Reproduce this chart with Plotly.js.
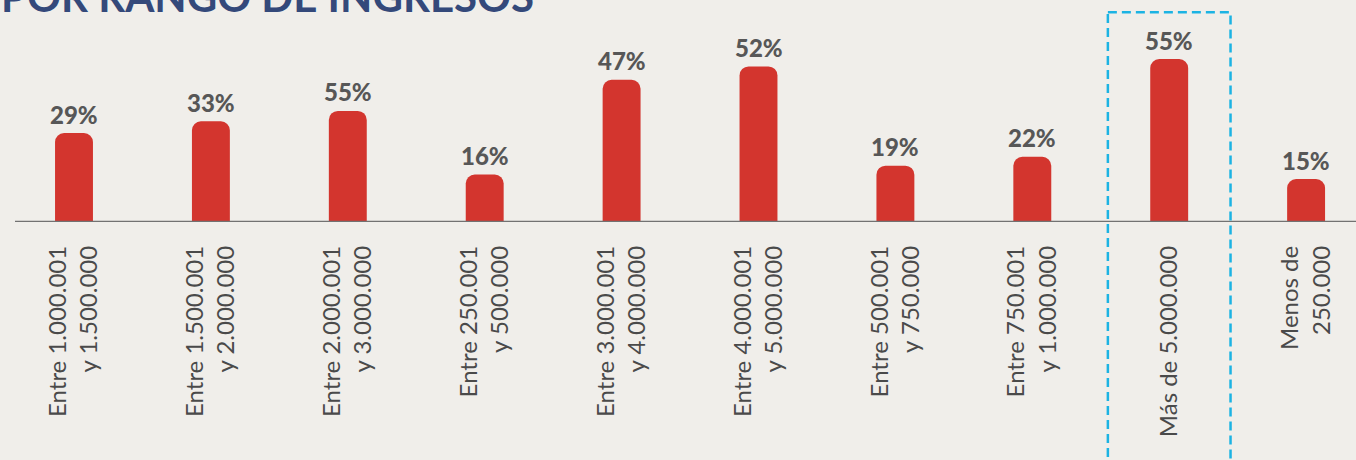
<!DOCTYPE html>
<html>
<head>
<meta charset="utf-8">
<script src="https://cdn.plot.ly/plotly-3.0.1.min.js"></script>
<style>
html,body{margin:0;padding:0;background:#f0eeea;}
#chart{width:1356px;height:460px;}
</style>
</head>
<body>
<div id="chart"></div>
<script>
// Data
const categories = [
  "Entre 1.000.001<br>y 1.500.000",
  "Entre 1.500.001<br>y 2.000.000",
  "Entre 2.000.001<br>y 3.000.000",
  "Entre 250.001<br>y 500.000",
  "Entre 3.000.001<br>y 4.000.000",
  "Entre 4.000.001<br>y 5.000.000",
  "Entre 500.001<br>y 750.000",
  "Entre 750.001<br>y 1.000.000",
  "Más de 5.000.000",
  "Menos de<br>250.000"
];
// bar heights as drawn in the reference
const values = [30, 34, 37.5, 16, 48, 52.5, 19, 22, 55, 14.5];
// labels printed above the bars
const valueLabels = ["29%", "33%", "55%", "16%", "47%", "52%", "19%", "22%", "55%", "15%"];
const highlighted = "Más de 5.000.000";
const titleText = "POR RANGO DE INGRESOS";

const W = 1356, H = 460;
const baseY = 222.5;           // pixel of axis line
const step = 136.9;            // px per category
const firstCenter = 74;        // px of first category center
const pxPerUnit = 2.97;

const xStart = -firstCenter / step;
const xEnd = xStart + W / step;
const hiIdx = categories.indexOf(highlighted);
const idx = categories.map((c, i) => i);

const trace = {
  type: 'bar',
  x: idx,
  y: values,
  cliponaxis: false,
  marker: {color: '#d3352e', cornerradius: 9},
  width: 0.277,
  hoverinfo: 'skip'
};

const labelAnnots = idx.map(i => ({
  x: i, y: values[i], xref: 'x', yref: 'y',
  text: valueLabels[i], showarrow: false,
  yanchor: 'middle', yshift: 19,
  font: {family: 'Lato, "Open Sans", sans-serif', size: 24, color: '#575757', weight: 900}
}));

const layout = {
  width: W, height: H,
  margin: {l: 0, r: 0, t: 0, b: H - baseY},
  paper_bgcolor: '#f0eeea',
  plot_bgcolor: 'rgba(0,0,0,0)',
  showlegend: false,
  xaxis: {
    type: 'linear',
    range: [xStart, xEnd],
    tickmode: 'array',
    tickvals: idx,
    ticktext: categories,
    tickangle: -90,
    ticks: '',
    ticklabelstandoff: 18,
    showgrid: false, zeroline: false, showline: false,
    tickfont: {family: 'Lato, "Open Sans", sans-serif', size: 24, color: '#4a4a4a'},
    fixedrange: true
  },
  yaxis: {
    range: [0, baseY / pxPerUnit],
    visible: false,
    fixedrange: true
  },
  shapes: [
    {type: 'line', xref: 'paper', yref: 'y', x0: 15 / W, x1: 1, y0: 0, y1: 0,
     line: {color: '#727272', width: 2.5}, layer: 'above'},
    {type: 'rect', xref: 'x', yref: 'paper', x0: hiIdx - 0.448, x1: hiIdx + 0.448,
     y0: (baseY - 12.3) / baseY, y1: (baseY - 470) / baseY,
     line: {color: '#1cb3e3', width: 2.5, dash: '9px,5px'}, fillcolor: 'rgba(0,0,0,0)'}
  ],
  annotations: labelAnnots.concat([
    {text: '<b>' + titleText + '</b>', xref: 'paper', yref: 'paper', x: -0.001, xanchor: 'left',
     y: (baseY + 4) / baseY, yanchor: 'middle', showarrow: false,
     font: {family: 'Lato, "Open Sans", sans-serif', size: 42, color: '#34497a', weight: 900}}
  ])
};

Plotly.newPlot('chart', [trace], layout, {displayModeBar: false, staticPlot: true});
</script>
</body>
</html>
